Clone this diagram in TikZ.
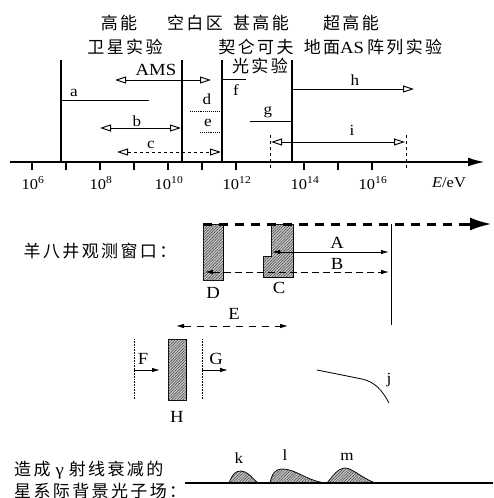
\documentclass[tikz,border=0pt]{standalone}
\usepackage{fontspec}
\setmainfont[FakeStretch=1.1]{Liberation Serif}
\newfontfamily\cjk[LetterSpace=14]{Noto Sans CJK SC}
\usetikzlibrary{arrows.meta,patterns.meta}
\tikzset{
  ohead/.tip={Triangle[open,length=11pt,width=7pt]},
  fhead/.tip={Latex[length=8pt,width=4.5pt]}
}
\begin{document}
\begin{tikzpicture}[x=1pt,y=-1pt,
  cn/.style={font=\cjk\fontsize{17}{19}\selectfont, inner sep=0},
  lb/.style={font=\fontsize{15.5}{17}\selectfont, inner sep=0},
  tk/.style={font=\fontsize{15}{17}\selectfont, inner sep=0},
  big/.style={font=\fontsize{17}{19}\selectfont, inner sep=0},
  vline/.style={line width=1.1pt},
  seg/.style={line width=1pt},
  hatch/.style={fill=gray!45, postaction={pattern={Lines[angle=45,distance=2pt,line width=0.5pt]}, pattern color=black!75}},
  fdot/.style={densely dotted, line width=0.6pt}]
\useasboundingbox (0,0) rectangle (493,498);

% ---------- upper chart ----------
\draw[line width=2.2pt,-{Latex[length=17pt,width=9pt]}] (10,162) -- (485,162);
\foreach \n in {6,...,12,14,15,16}{
  \draw[line width=1.2pt] ({32+34*(\n-6)},163) -- ({32+34*(\n-6)},170);
}
\foreach \n in {6,8,10,12,14,16}{
  \node[tk] (t\n) at ({33+34*(\n-6)},183) {10\textsuperscript{\n}};
}
\node[tk] (unit) at (449,183) {\textit{E}/eV};

\coordinate (v1t) at (61,60);  \coordinate (v1b) at (61,162);
\coordinate (v2t) at (182,60); \coordinate (v2b) at (182,162);
\coordinate (v3t) at (222,60); \coordinate (v3b) at (222,162);
\coordinate (v4t) at (292,60); \coordinate (v4b) at (292,162);
\draw[vline] (v1t) -- (v1b);
\draw[vline] (v2t) -- (v2b);
\draw[vline] (v3t) -- (v3b);
\draw[vline] (v4t) -- (v4b);

\node[cn] (gn)  at (119,23) {高能};
\node[cn] (kb)  at (195,23) {空白区};
\node[cn] (sgn) at (261,23) {甚高能};
\node[cn] (cgn) at (351,23) {超高能};
\node[cn] (wx)  at (125,47) {卫星实验};
\node[cn] (qlkf) at (256,47) {契仑可夫};
\node[cn] (gsy) at (260,66) {光实验};
\node[cn] (dm)  at (373,47) {地面{\normalfont AS}\hspace{3pt}阵列实验};

% AMS
\node[big] (ams) at (156,70) {AMS};
\coordinate (amsL) at (115,80); \coordinate (amsR) at (211,80);
\draw[seg,ohead-ohead] (amsL) -- (amsR);
% a
\coordinate (aR) at (149,100);
\draw[seg] (61,100) -- (aR);
\node[lb] (la) at (74,93) {a};
% b
\coordinate (bL) at (100,128); \coordinate (bR) at (181,128);
\draw[seg,ohead-ohead] (bL) -- (bR);
\node[lb] (lbb) at (137,121) {b};
% c
\coordinate (cL) at (117,152); \coordinate (cR) at (221,152);
\draw[seg,dashed,ohead-ohead] (cL) -- (cR);
\node[lb] (lc) at (151,145) {c};
% d e
\coordinate (dL) at (190,111); \coordinate (dR) at (220,111);
\draw[densely dotted,line width=0.9pt] (dL) -- (dR);
\node[lb] (ld) at (207,99) {d};
\coordinate (eL) at (200,132); \coordinate (eR) at (220,132);
\draw[densely dotted,line width=0.9pt] (eL) -- (eR);
\node[lb] (le) at (208,123) {e};
% f
\coordinate (fR) at (246,79);
\draw[seg] (222,79) -- (fR);
\node[lb] (lf) at (236,90) {f};
% g
\coordinate (gL) at (250,121);
\draw[seg] (gL) -- (292,121);
\node[lb] (lg) at (268,112) {g};
% h
\coordinate (hR) at (414,89);
\draw[seg,-ohead] (292,89) -- (hR);
\node[lb] (lh) at (355,80) {h};
% i
\coordinate (iL) at (271,142); \coordinate (iR) at (405,142);
\draw[seg,ohead-ohead] (iL) -- (iR);
\node[lb] (li) at (352,130) {i};
\draw[dashed,line width=0.9pt] (270,135) -- (270,171);
\draw[dashed,line width=0.9pt] (406,135) -- (406,171);

% ---------- Yangbajing window ----------
\node[cn] (ybj) at (100,251) {羊八井观测窗口：};
\draw[hatch] (203,224) rectangle (223,280);
\draw[hatch,line width=0.6pt] (271,224) -- (293,224) -- (293,277) -- (263,277) -- (263,256) -- (271,256) -- cycle;
\draw[line width=3pt, dash pattern=on 9pt off 7pt] (203,224) -- (470,224);
\draw[line width=3pt,-{Latex[length=22pt,width=13pt]}] (468,224) -- (492,224);
\coordinate (win) at (391,224); \coordinate (winb) at (391,325);
\draw[line width=0.6pt] (win) -- (winb);

\node[big] (nD) at (213,293) {D};
\node[big] (nC) at (279,288) {C};
\coordinate (AL) at (272,252); \coordinate (AR) at (389,252);
\draw[line width=1pt,fhead-fhead] (AL) -- (AR);
\node[big] (nA) at (337,243) {A};
\coordinate (BL) at (205,272); \coordinate (BR) at (389,272);
\draw[line width=0.8pt,dash pattern=on 7pt off 4pt,fhead-fhead] (BL) -- (BR);
\node[big] (nB) at (337,264) {B};

% ---------- E F G H ----------
\coordinate (EL) at (176,326); \coordinate (ER) at (288,326);
\draw[line width=0.8pt,dash pattern=on 7pt off 6pt,fhead-fhead] (EL) -- (ER);
\node[big] (nE) at (234,314) {E};
\draw[hatch] (168,339) rectangle (186,400);
\node[big] (nH) at (177,417) {H};
\draw[fdot] (134,339) -- (134,399);
\coordinate (F0) at (134,370); \coordinate (F1) at (160,370);
\draw[line width=0.9pt,-fhead] (F0) -- (F1);
\node[big] (nF) at (143,359) {F};
\draw[fdot] (202,339) -- (202,399);
\coordinate (G0) at (202,370); \coordinate (G1) at (228,370);
\draw[line width=0.9pt,-fhead] (G0) -- (G1);
\node[big] (nG) at (216,359) {G};

% j
\draw[line width=0.8pt] (317,370) -- (362,379) .. controls (375,382) and (382,390) .. (389,403);
\node[lb] (lj) at (389,380) {j};

% ---------- background photons ----------
\node[cn,anchor=west] (bg1) at (14,470) {造成\hspace{5pt}{\normalfont γ}\hspace{5pt}射线衰减的};
\node[cn,anchor=west] (bg2) at (14,491) {星系际背景光子场：};
\draw[hatch,line width=0.8pt] (229,483) .. controls (233,473) and (236,471) .. (241,471) .. controls (247,471) and (252,478) .. (258,483) -- cycle;
\draw[hatch,line width=0.8pt] (270,483) .. controls (272,474) and (275,469) .. (282,469) .. controls (296,469) and (305,480) .. (325,483) -- cycle;
\draw[hatch,line width=0.8pt] (327,483) .. controls (333,476) and (338,468) .. (345,468) .. controls (352,468) and (362,478) .. (375,483) -- cycle;
\draw[line width=1.1pt] (185,483) -- (493,483);
\node[lb] (lk) at (239,458) {k};
\node[lb] (ll) at (285,455) {l};
\node[lb] (lm) at (347,457) {m};
\end{tikzpicture}
\end{document}
